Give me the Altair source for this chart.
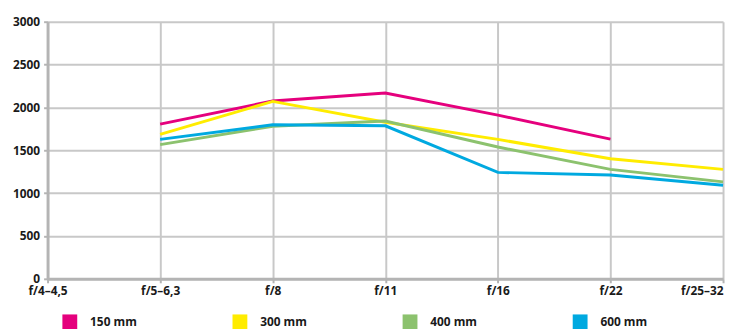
import altair as alt
import pandas as pd

categories = ["f/4–4,5", "f/5–6,3", "f/8", "f/11", "f/16", "f/22", "f/25–32"]
series_names = ["150 mm", "300 mm", "400 mm", "600 mm"]
s150 = [None, 1805, 2075, 2168, 1910, 1630, None]
s300 = [None, 1685, 2070, 1827, 1627, 1400, 1277]
s400 = [None, 1566, 1780, 1842, 1538, 1277, 1131]
s600 = [None, 1627, 1798, 1785, 1242, 1211, 1092]
colors = ["#e5007d", "#ffec00", "#8cc26e", "#00a9e0"]

rows = []
for name, vals in zip(series_names, [s150, s300, s400, s600]):
    for i, (c, v) in enumerate(zip(categories, vals)):
        if v is not None:
            rows.append({"blende": c, "wert": v, "serie": name, "idx": i})
df = pd.DataFrame(rows)

FONT = "Open Sans"
GRID = "#c8c8c8"
AXIS = "#b4b4b4"

chart = alt.Chart(df).mark_line(strokeWidth=3).encode(
    x=alt.X("blende:N", sort=categories,
            scale=alt.Scale(type="point", domain=categories, padding=0),
            axis=alt.Axis(title=None, labelAngle=0, grid=True, gridColor=GRID, gridWidth=2,
                          domainColor=AXIS, domainWidth=3, tickColor=AXIS, tickWidth=2, tickSize=4,
                          labelPadding=3, labelFont=FONT, labelFontSize=12, labelFontWeight="bold",
                          labelColor="#1a1a1a",
                          labelAlign=alt.ExprRef(expr="datum.label == 'f/25–32' ? 'right' : 'center'"))),
    y=alt.Y("wert:Q", scale=alt.Scale(domain=[0, 3000], nice=False),
            axis=alt.Axis(title=None, values=[0, 500, 1000, 1500, 2000, 2500, 3000], format="d",
                          grid=True, gridColor=GRID, gridWidth=2,
                          domainColor=AXIS, domainWidth=3, tickColor=AXIS, tickWidth=2, tickSize=4,
                          labelPadding=4, labelFont=FONT, labelFontSize=12, labelFontWeight="bold",
                          labelColor="#1a1a1a")),
    color=alt.Color("serie:N", scale=alt.Scale(domain=series_names, range=colors),
                    legend=alt.Legend(title=None, orient="none", legendX=15, legendY=296,
                                      direction="horizontal", columns=4, columnPadding=84,
                                      gridAlign="all", padding=0, offset=0, symbolOffset=0,
                                      symbolType="square", symbolSize=49, symbolStrokeWidth=8,
                                      labelOffset=13, labelFont=FONT, labelFontSize=12,
                                      labelFontWeight="bold", labelColor="#1a1a1a")),
    detail="serie:N",
).properties(
    width=683, height=260,
    autosize=alt.AutoSizeParams(type="none"),
    padding={"left": 40, "top": 12, "right": 4, "bottom": 60},
).configure_view(stroke=None)

chart.save("out.html", embed_options={"renderer": "svg", "actions": False})
